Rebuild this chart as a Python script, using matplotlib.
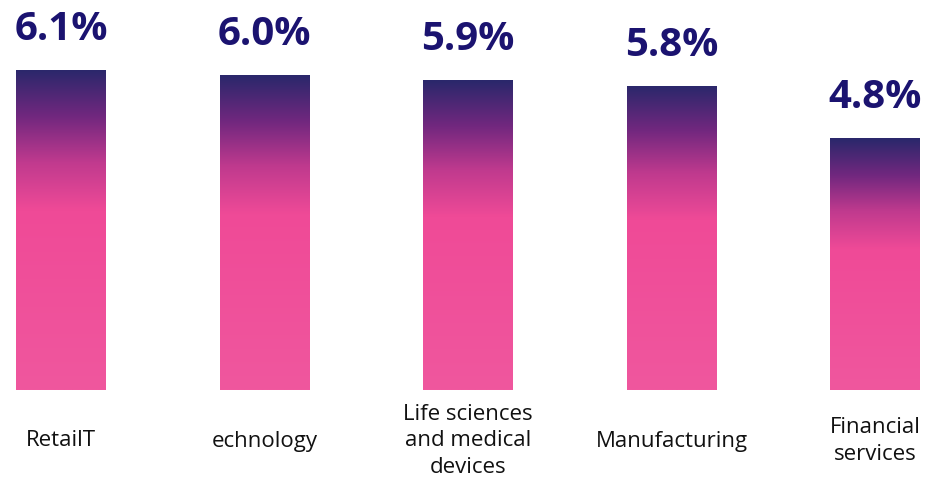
import matplotlib
matplotlib.use("Agg")
import matplotlib.pyplot as plt
import numpy as np
from matplotlib.colors import LinearSegmentedColormap
from matplotlib.patches import Rectangle

categories = ["RetailT", "echnology", "Life sciences\nand medical\ndevices", "Manufacturing", "Financial\nservices"]
values = [6.1, 6.0, 5.9, 5.8, 4.8]
value_labels = ["6.1%", "6.0%", "5.9%", "5.8%", "4.8%"]

cmap = LinearSegmentedColormap.from_list(
    "grad",
    [(0.0, "#2a276b"), (0.15, "#73287f"), (0.29, "#c03a8e"), (0.44, "#ef4a97"), (1.0, "#f0579e")],
)

fig = plt.figure(figsize=(9.26, 4.8), dpi=100)
ax = fig.add_axes([0, 0, 1, 1])
ax.set_xlim(-61 / 203.5, (926 - 61) / 203.5)
ax.set_ylim(-90 / 52.5, 390 / 52.5)
ax.axis("off")

width = 90 / 203.5
grad = np.linspace(0, 1, 256).reshape(-1, 1)
for i, (v, lab, cat) in enumerate(zip(values, value_labels, categories)):
    x0 = i - width / 2
    rect = Rectangle((x0, 0), width, v, facecolor="none", edgecolor="none")
    ax.add_patch(rect)
    im = ax.imshow(grad, cmap=cmap, vmin=0, vmax=1, aspect="auto",
                   extent=(x0, x0 + width, 0, v), interpolation="bilinear", origin="upper")
    im.set_clip_path(rect)
    ax.text(i, v + 30 / 52.5, lab, ha="center", va="baseline", fontsize=29,
            fontweight="bold", color="#1b1370", family="Open Sans")
    ax.text(i, -51 / 52.5, cat, ha="center", va="center", fontsize=16,
            color="#111111", family="Open Sans", linespacing=1.35)

fig.savefig("out.png", dpi=100)
